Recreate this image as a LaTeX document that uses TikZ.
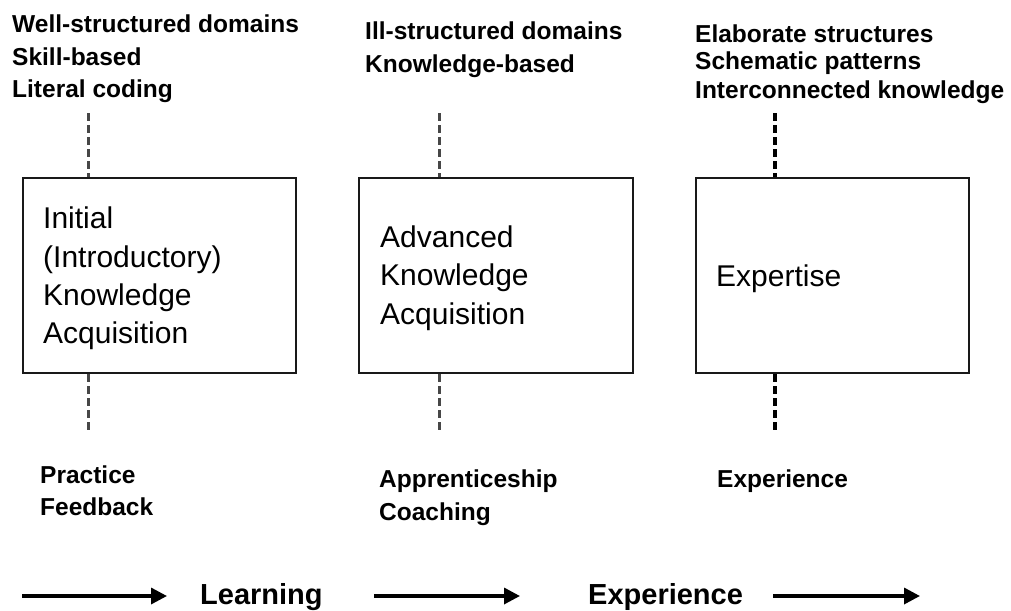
\documentclass[tikz,border=0pt]{standalone}
\usepackage{fontspec}
\setmainfont{Liberation Sans}
\usetikzlibrary{arrows.meta}
\begin{document}
\begin{tikzpicture}[x=1pt,y=-1pt,
  toplab/.style={anchor=base west,inner sep=0pt,font=\fontsize{24.5}{30}\selectfont\bfseries},
  boxlab/.style={anchor=base west,inner sep=0pt,font=\fontsize{30}{38}\selectfont},
  rowlab/.style={anchor=base west,inner sep=0pt,font=\fontsize{29}{34}\selectfont\bfseries},
  stagebox/.style={draw=black!90,line width=2.4pt,anchor=north west,minimum width=273pt,minimum height=195pt,inner sep=0pt},
  guide/.style={draw=black!72,line width=3pt,dash pattern=on 8pt off 4pt},
  guidedark/.style={draw=black,line width=3.2pt,dash pattern=on 8pt off 4pt},
  flow/.style={draw=black,line width=3.4pt,-{Triangle[length=16pt,width=16pt]}}]
\useasboundingbox (0,0) rectangle (1011,610);

% boxes
\node[stagebox] (b1) at (22,177) {};
\node[stagebox,minimum width=274pt] (b2) at (358,177) {};
\node[stagebox] (b3) at (695,177) {};

% top labels
\node[toplab] (t11) at (12,33) {Well-structured domains};
\node[toplab] (t12) at (12,65) {Skill-based};
\node[toplab] (t13) at (12,97) {Literal coding};
\node[toplab] (t21) at (365,40) {Ill-structured domains};
\node[toplab] (t22) at (365,72) {Knowledge-based};
\node[toplab] (t31) at (695,42) {Elaborate structures};
\node[toplab] (t32) at (695,70) {Schematic patterns};
\node[toplab] (t33) at (695,98) {Interconnected knowledge};

% box labels
\node[boxlab] (l11) at (43,228) {Initial};
\node[boxlab] (l12) at (43,267) {(Introductory)};
\node[boxlab] (l13) at (43,305) {Knowledge};
\node[boxlab] (l14) at (43,343) {Acquisition};
\node[boxlab] (l21) at (380,247) {Advanced};
\node[boxlab] (l22) at (380,285) {Knowledge};
\node[boxlab] (l23) at (380,324) {Acquisition};
\node[boxlab] (l31) at (716,286) {Expertise};

% bottom labels
\node[toplab] (m11) at (40,483) {Practice};
\node[toplab] (m12) at (40,515) {Feedback};
\node[toplab] (m21) at (379,487) {Apprenticeship};
\node[toplab] (m22) at (379,520) {Coaching};
\node[toplab] (m31) at (717,487) {Experience};

% guides
\coordinate (g1t) at (88,113);
\coordinate (g1b) at (88,432);
\coordinate (g2t) at (439,113);
\coordinate (g2b) at (439,432);
\coordinate (g3t) at (775,113);
\coordinate (g3b) at (775,432);
\draw[guide] (g1t) -- (g1t |- b1.north);
\draw[guide] (g1t |- b1.south) -- (g1b);
\draw[guide] (g2t) -- (g2t |- b2.north);
\draw[guide] (g2t |- b2.south) -- (g2b);
\draw[guidedark] (g3t) -- (g3t |- b3.north);
\draw[guidedark] (g3t |- b3.south) -- (g3b);

% bottom row
\node[rowlab] (learn) at (200,604) {Learning};
\node[rowlab] (exper) at (588,604) {Experience};
\coordinate (a1s) at (22,596);
\coordinate (a1e) at (167,596);
\coordinate (a2s) at (374,596);
\coordinate (a2e) at (520,596);
\coordinate (a3s) at (773,596);
\coordinate (a3e) at (920,596);
\draw[flow] (a1s) -- (a1e);
\draw[flow] (a2s) -- (a2e);
\draw[flow] (a3s) -- (a3e);
\end{tikzpicture}
\end{document}
